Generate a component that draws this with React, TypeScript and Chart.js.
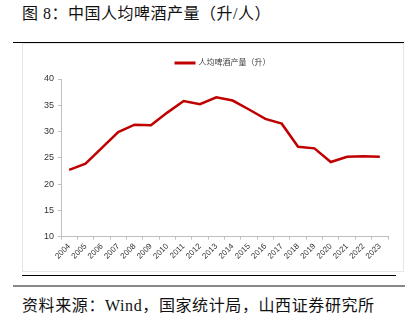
import React, { useEffect, useRef } from "react";
import { Chart, registerables } from "chart.js";

Chart.register(...registerables);

const years = ["2004","2005","2006","2007","2008","2009","2010","2011","2012","2013","2014","2015","2016","2017","2018","2019","2020","2021","2022","2023"];
const perCapitaBeer = [22.7,23.9,26.9,29.9,31.3,31.2,33.6,35.8,35.2,36.5,35.9,34.2,32.4,31.5,27.1,26.8,24.2,25.2,25.3,25.2];
const seriesName = "人均啤酒产量（升）";
const yMin = 10;
const yMax = 40;
const yStep = 5;

const legendPlugin = {
  id: "lineLegend",
  afterDraw(chart: any) {
    const ds = chart.data.datasets[0];
    const ctx = chart.ctx;
    const area = chart.chartArea;
    ctx.save();
    ctx.font = "8px 'Liberation Sans', Arial, 'Noto Sans CJK SC', sans-serif";
    const tw = ctx.measureText(ds.label).width;
    const lineW = 21;
    const gap = 3;
    const total = lineW + gap + tw;
    const cx = (area.left + area.right) / 2 - 2;
    const x0 = cx - total / 2;
    const y = area.top - 16;
    ctx.strokeStyle = ds.borderColor;
    ctx.lineWidth = 3;
    ctx.beginPath();
    ctx.moveTo(x0, y);
    ctx.lineTo(x0 + lineW, y);
    ctx.stroke();
    ctx.fillStyle = "#404040";
    ctx.textBaseline = "middle";
    ctx.textAlign = "left";
    ctx.fillText(ds.label, x0 + lineW + gap, y);
    ctx.restore();
  },
};

export default function App() {
  const ref = useRef<HTMLCanvasElement>(null);
  useEffect(() => {
    if (!ref.current) return;
    const chart = new Chart(ref.current, {
      type: "line",
      data: {
        labels: years,
        datasets: [
          {
            label: seriesName,
            data: perCapitaBeer,
            borderColor: "#C00000",
            backgroundColor: "#C00000",
            borderWidth: 2.5,
            pointRadius: 0,
            tension: 0,
          },
        ],
      },
      plugins: [legendPlugin],
      options: {
        animation: false,
        responsive: false,
        maintainAspectRatio: false,
        layout: { padding: { left: 4, right: 16, top: 35, bottom: 9 } },
        plugins: {
          legend: { display: false },
          tooltip: { enabled: false },
        },
        scales: {
          x: {
            offset: true,
            grid: { display: true, drawOnChartArea: false, drawTicks: true, tickLength: 3, color: "#BFBFBF", offset: true },
            border: { color: "#BFBFBF" },
            ticks: {
              minRotation: 45,
              maxRotation: 45,
              autoSkip: false,
              color: "#333",
              padding: 2,
              font: { family: "'Liberation Sans', Arial, sans-serif", size: 8 },
            },
          },
          y: {
            min: yMin,
            max: yMax,
            grid: { display: true, drawOnChartArea: false, drawTicks: true, tickLength: 3, color: "#BFBFBF" },
            border: { color: "#BFBFBF" },
            ticks: {
              stepSize: yStep,
              color: "#333",
              padding: 4,
              font: { family: "'Liberation Sans', Arial, sans-serif", size: 9 },
            },
            afterFit: (s: any) => { s.width = 35; },
          },
        },
      },
    });
    return () => chart.destroy();
  }, []);

  const textFont = "'Liberation Serif', 'Noto Sans CJK SC', serif";
  return (
    <div style={{ position: "fixed", left: 0, top: 0, width: 420, height: 324, background: "#fff" }}>
      <div style={{ position: "absolute", left: 22, top: 3, fontSize: 16, color: "#111", whiteSpace: "nowrap", lineHeight: "22px", fontFamily: textFont, letterSpacing: 0.5 }}>
        图 8：中国人均啤酒产量（升/人）
      </div>
      <div style={{ position: "absolute", left: 13, top: 42, width: 391, height: 1, background: "#000" }} />
      <div style={{ position: "absolute", left: 22, top: 43, width: 382, height: 229, border: "1px solid #E6E6E6", boxSizing: "border-box" }} />
      <canvas ref={ref} width={382} height={228} style={{ position: "absolute", left: 22, top: 44, width: 382, height: 228 }} />
      <div style={{ position: "absolute", left: 22, top: 275, width: 374, height: 1, background: "#000" }} />
      <div style={{ position: "absolute", left: 13, top: 285, width: 392, height: 2, background: "#888" }} />
      <div style={{ position: "absolute", left: 22, top: 295, fontSize: 16, color: "#111", whiteSpace: "nowrap", lineHeight: "22px", fontFamily: textFont, letterSpacing: 0.6 }}>
        资料来源：Wind，国家统计局，山西证券研究所
      </div>
    </div>
  );
}
